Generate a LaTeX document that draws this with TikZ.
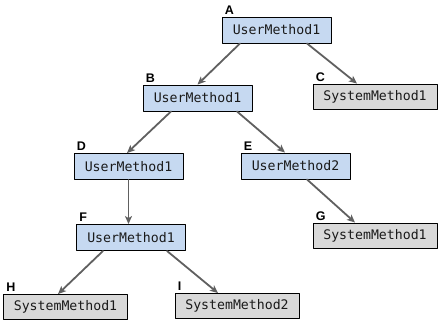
\documentclass[tikz,border=0pt]{standalone}
\usepackage{fontspec}
\setmainfont{Liberation Sans}
\setmonofont{DejaVu Sans Mono}
\usepackage{tikz}
\usetikzlibrary{arrows.meta}
\definecolor{cgUser}{HTML}{C6D9F1}
\definecolor{cgSystem}{HTML}{D9D9D9}
\definecolor{cgInk}{HTML}{1A1A1A}
\definecolor{cgLine}{HTML}{606060}
\tikzset{
  cg diagram/.style={x=1pt, y=-1pt, line cap=round, line join=round},
  cg box/.style={draw=black, line width=0.9pt, text=cgInk,
    font=\ttfamily\fontsize{13.2}{15}\selectfont, inner sep=0pt,
    minimum height=26pt},
  cg user/.style={cg box, fill=cgUser, minimum width=109pt},
  cg system/.style={cg box, fill=cgSystem, minimum width=124pt, minimum height=25pt},
  cg tag/.style={font=\bfseries\fontsize{12.5}{14}\selectfont, inner sep=0pt, anchor=base west},
  cg arrow/.style={-{Stealth[length=8pt,width=7pt,inset=2pt]}, draw=cgLine, line width=1.8pt}
}
\begin{document}
\begin{tikzpicture}[cg diagram]
\useasboundingbox (0,0) rectangle (443,324);
% call tree
\node[cg user]   (A) at (276.5,30)   {UserMethod1};
\node[cg user]   (B) at (197.5,98)   {UserMethod1};
\node[cg system] (C) at (375,96.5)   {SystemMethod1};
\node[cg user]   (D) at (128.5,166.5) {UserMethod1};
\node[cg user]   (E) at (295.5,166)  {UserMethod2};
\node[cg user]   (F) at (131,237.5)  {UserMethod1};
\node[cg system] (G) at (375,235.5)  {SystemMethod1};
\node[cg system] (H) at (65.5,307)   {SystemMethod1};
\node[cg system] (I) at (237,306)    {SystemMethod2};
\foreach \n in {A,B,C,D,E,F,G,H,I}
  \node[cg tag] (tag\n) at ([xshift=3pt,yshift=2.5pt]\n.north west) {\n};
\draw[cg arrow] ([xshift=-36.5pt]A.south) -- (B.north);
\draw[cg arrow] ([xshift=30.5pt]A.south) -- ([xshift=-18pt]C.north);
\draw[cg arrow] ([xshift=-26.5pt]B.south) -- ([xshift=-1.5pt]D.north);
\draw[cg arrow] ([xshift=39.5pt]B.south) -- ([xshift=-10.5pt]E.north);
\draw[cg arrow] (D.south) -- (D.south |- F.north);
\draw[cg arrow] ([xshift=11.5pt]E.south) -- ([xshift=-20pt]G.north);
\draw[cg arrow] ([xshift=-28pt]F.south) -- ([xshift=-7.5pt]H.north);
\draw[cg arrow] ([xshift=36pt]F.south) -- ([xshift=-19pt]I.north);
\end{tikzpicture}
\end{document}
